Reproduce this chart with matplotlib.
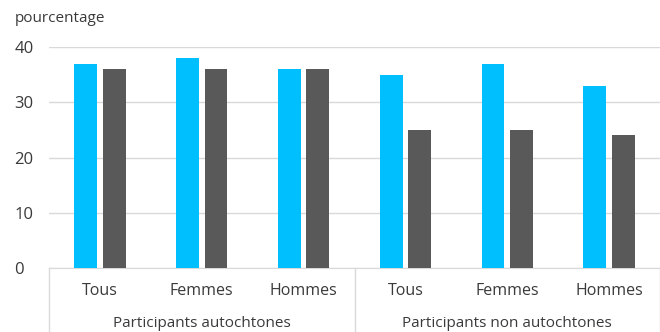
import matplotlib.pyplot as plt
import numpy as np

plt.rcParams['font.family'] = ['Open Sans', 'DejaVu Sans']

groups = ['Participants autochtones', 'Participants non autochtones']
cats = ['Tous', 'Femmes', 'Hommes', 'Tous', 'Femmes', 'Hommes']
serie_bleue = [37, 38, 36, 35, 37, 33]
serie_grise = [36, 36, 36, 25, 25, 24]
yticks = [0, 10, 20, 30, 40]

txt = '#3a3a3a'
fig = plt.figure(figsize=(6.6, 3.32), dpi=100)
ax = fig.add_axes([49 / 660, (332 - 268) / 332, 611 / 660, 221 / 332])

x = np.arange(len(cats))
w = 0.223
ax.bar(x - 0.14, serie_bleue, w, color='#00BFFF', zorder=3)
ax.bar(x + 0.14, serie_grise, w, color='#595959', zorder=3)

ax.set_xlim(-0.5, len(cats) - 0.5)
ax.set_ylim(0, 40)
ax.set_yticks(yticks)
ax.set_yticklabels([str(v) for v in yticks], color=txt, fontsize=12)
for lab in ax.get_yticklabels():
    lab.set_horizontalalignment('left')
ax.tick_params(axis='y', length=0, pad=25)
ax.set_xticks([])
ax.grid(axis='y', color='#d9d9d9', linewidth=1, zorder=0)
for s in ['top', 'right', 'left']:
    ax.spines[s].set_visible(False)
ax.spines['bottom'].set_color('#d9d9d9')

# libelles de categories a deux niveaux
tr = ax.get_xaxis_transform()
for i, c in enumerate(cats):
    ax.text(i, -0.105, c, transform=tr, ha='center', va='center', fontsize=11.5, color=txt)
for j, g in enumerate(groups):
    ax.text(3 * j + 1, -0.25, g, transform=tr, ha='center', va='center', fontsize=11, color=txt)
for xs in [-0.5, 2.5, 5.5]:
    ax.plot([xs, xs], [0, -0.3], transform=tr, color='#d9d9d9', lw=1, clip_on=False)

fig.text(15 / 660, 1 - 18 / 332, 'pourcentage', ha='left', va='center', fontsize=11, color=txt)

fig.savefig('out.png', dpi=100)
